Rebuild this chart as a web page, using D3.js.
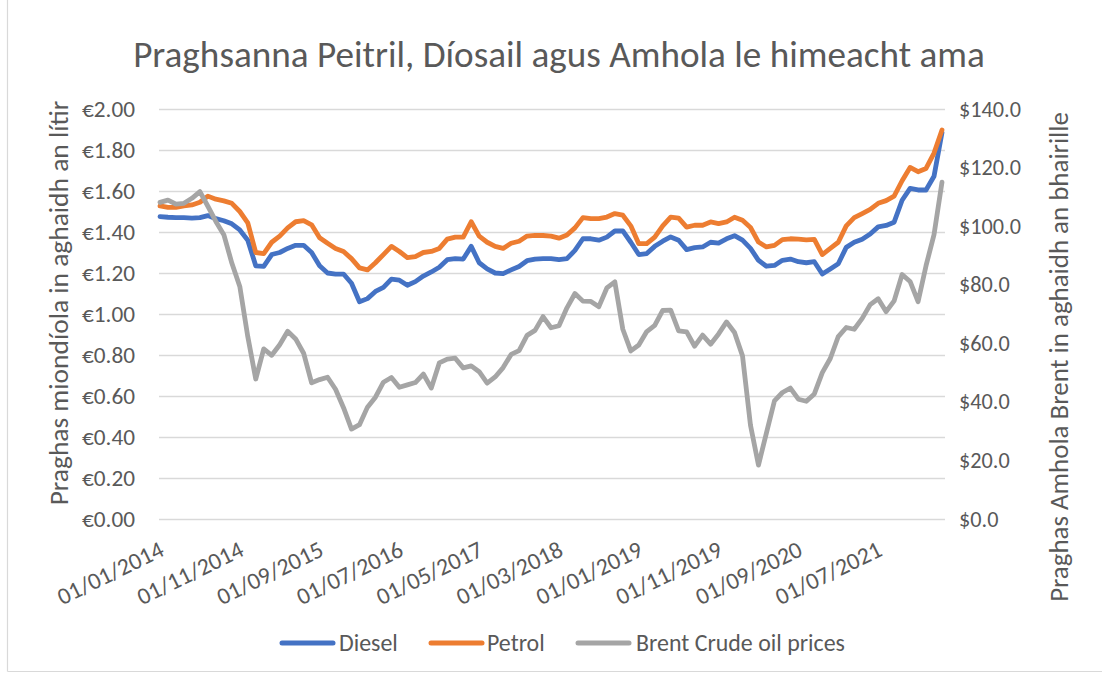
<!DOCTYPE html>
<html>
<head>
<meta charset="utf-8">
<script src="https://cdn.jsdelivr.net/npm/d3@7"></script>
<style>
  html, body { margin: 0; padding: 0; background: #fff; }
  svg { display: block; }
  text { font-family: Carlito, Calibri, Lato, "Open Sans", sans-serif; fill: #595959; }
</style>
</head>
<body>
<svg id="chart" width="1102" height="675"></svg>
<script>
// ---------------- DATA ----------------
const title = "Praghsanna Peitril, Díosail agus Amhola le himeacht ama";
const leftAxisTitle = "Praghas miondíola in aghaidh an lítir";
const rightAxisTitle = "Praghas Amhola Brent in aghaidh an bhairille";
const seriesNames = ["Diesel", "Petrol", "Brent Crude oil prices"];

// monthly categories, Jan 2014 – Mar 2022
const months = d3.timeMonth.range(new Date(2014, 0, 1), new Date(2022, 3, 1))
  .map(d3.timeFormat("%d/%m/%Y"));

const tickLabels = ["01/01/2014", "01/11/2014", "01/09/2015", "01/07/2016", "01/05/2017",
                    "01/03/2018", "01/01/2019", "01/11/2019", "01/09/2020", "01/07/2021"];

const leftTicks = [0, 0.2, 0.4, 0.6, 0.8, 1.0, 1.2, 1.4, 1.6, 1.8, 2.0];
const rightTicks = [0, 20, 40, 60, 80, 100, 120, 140];

const diesel = [
  1.475, 1.472, 1.470, 1.470, 1.468, 1.470, 1.480, 1.465, 1.455, 1.440, 1.410, 1.360,
  1.235, 1.232, 1.290, 1.300, 1.320, 1.335, 1.335, 1.300, 1.235, 1.200, 1.195, 1.195,
  1.150, 1.060, 1.075, 1.110, 1.130, 1.170, 1.165, 1.140, 1.158, 1.185, 1.205, 1.228,
  1.265, 1.270, 1.268, 1.330, 1.250, 1.220, 1.200, 1.197, 1.215, 1.232, 1.260, 1.268,
  1.270, 1.270, 1.265, 1.270, 1.310, 1.367, 1.367, 1.360, 1.375, 1.405, 1.405, 1.350,
  1.290, 1.295, 1.330, 1.355, 1.376, 1.360, 1.314, 1.324, 1.327, 1.350, 1.346, 1.367,
  1.382, 1.360, 1.320, 1.262, 1.233, 1.237, 1.262, 1.268, 1.255, 1.250, 1.255, 1.195,
  1.220, 1.245, 1.325, 1.350, 1.365, 1.390, 1.425, 1.432, 1.448, 1.555, 1.613, 1.605,
  1.605, 1.672, 1.885
];

const petrol = [
  1.527, 1.520, 1.520, 1.527, 1.532, 1.545, 1.575, 1.560, 1.552, 1.540, 1.500, 1.445,
  1.300, 1.295, 1.350, 1.380, 1.420, 1.450, 1.455, 1.435, 1.372, 1.345, 1.320, 1.305,
  1.270, 1.225, 1.215, 1.250, 1.290, 1.330, 1.305, 1.275, 1.280, 1.300, 1.305, 1.320,
  1.365, 1.375, 1.375, 1.450, 1.380, 1.350, 1.330, 1.320, 1.345, 1.355, 1.380, 1.384,
  1.383, 1.380, 1.370, 1.385, 1.420, 1.470, 1.465, 1.465, 1.473, 1.490, 1.482, 1.430,
  1.343, 1.343, 1.375, 1.430, 1.473, 1.468, 1.424, 1.433, 1.433, 1.449, 1.441, 1.449,
  1.472, 1.457, 1.422, 1.351, 1.327, 1.335, 1.363, 1.367, 1.365, 1.362, 1.364, 1.290,
  1.320, 1.350, 1.430, 1.470, 1.490, 1.510, 1.540, 1.553, 1.575, 1.650, 1.715, 1.694,
  1.710, 1.785, 1.898
];

const brent = [
  108.1, 108.9, 107.5, 107.8, 109.5, 111.8, 106.8, 101.6, 97.1, 87.4, 79.4, 62.3,
  47.8, 58.1, 55.9, 59.5, 64.1, 61.5, 56.6, 46.5, 47.6, 48.4, 44.3, 38.0,
  30.7, 32.2, 38.2, 41.6, 46.7, 48.3, 45.0, 45.8, 46.6, 49.5, 44.7, 53.3,
  54.6, 54.9, 51.6, 52.3, 50.3, 46.4, 48.5, 51.7, 56.2, 57.5, 62.7, 64.4,
  69.1, 65.3, 66.0, 72.1, 77.0, 74.4, 74.3, 72.5, 78.9, 81.0, 64.8, 57.4,
  59.4, 64.0, 66.1, 71.2, 71.3, 64.2, 63.9, 59.0, 62.8, 59.7, 63.2, 67.3,
  63.7, 55.7, 32.0, 18.4, 29.4, 40.3, 43.2, 44.7, 40.9, 40.2, 42.7, 50.0,
  54.8, 62.3, 65.4, 64.8, 68.5, 73.2, 75.2, 70.8, 74.5, 83.5, 81.1, 74.2,
  86.5, 97.1, 115.0
];

const colors = ["#4472C4", "#ED7D31", "#A5A5A5"];

// ---------------- CHART ----------------
const svg = d3.select("#chart");
svg.append("rect").attr("width", 1102).attr("height", 675).attr("fill", "#fff");

// outer chart border (left and bottom visible)
svg.append("line").attr("x1", 7.5).attr("x2", 7.5).attr("y1", 0).attr("y2", 671.5)
  .attr("stroke", "#D9D9D9").attr("stroke-width", 1.2);
svg.append("line").attr("x1", 7.5).attr("x2", 1102).attr("y1", 671.5).attr("y2", 671.5)
  .attr("stroke", "#D9D9D9").attr("stroke-width", 1.2);

const plotL = 159, plotR = 945, plotT = 109, plotB = 519;

const x = d3.scalePoint().domain(months).range([160, 942]);
const yL = d3.scaleLinear().domain([0, 2]).range([plotB, plotT]);
const yR = d3.scaleLinear().domain([0, 140]).range([plotB, plotT]);

function fitFont(sel, target, base) {
  sel.style("font-size", base + "px");
  const w = sel.node().getComputedTextLength();
  const s = base * target / w;
  sel.style("font-size", s + "px");
  return s;
}
function measureSize(str, target, base) {
  const t = svg.append("text").text(str);
  const s = fitFont(t, target, base);
  t.remove();
  return s;
}

// gridlines + left axis
const leftAxis = svg.append("g").attr("transform", `translate(${plotL},0)`)
  .call(d3.axisLeft(yL).tickValues(leftTicks).tickSize(-(plotR - plotL)).tickPadding(24)
    .tickFormat(d => "€" + d.toFixed(2)));
leftAxis.select(".domain").remove();
leftAxis.selectAll(".tick line").attr("stroke", "#D9D9D9").attr("stroke-width", 1.4);
const leftSize = measureSize("€0.00", 53, 20);
leftAxis.selectAll(".tick text").attr("fill", "#595959")
  .style("font-size", leftSize + "px").style("font-family", null);

// right axis
const rightAxis = svg.append("g").attr("transform", `translate(${plotR},0)`)
  .call(d3.axisRight(yR).tickValues(rightTicks).tickSize(0).tickPadding(14)
    .tickFormat(d => "$" + d.toFixed(1)));
rightAxis.select(".domain").remove();
const rightSize = measureSize("$140.0", 62, 20);
rightAxis.selectAll(".tick text").attr("fill", "#595959")
  .style("font-size", rightSize + "px").style("font-family", null);

// x axis labels
const xSize = measureSize("01/01/2014", 115, 20);
const xAxis = svg.append("g").attr("transform", `translate(0,${plotB})`)
  .call(d3.axisBottom(x).tickValues(tickLabels).tickSize(0));
xAxis.select(".domain").remove();
xAxis.selectAll(".tick text")
  .attr("fill", "#595959")
  .style("font-size", xSize + "px").style("font-family", null)
  .attr("text-anchor", "end")
  .attr("x", 5).attr("y", 36).attr("dy", 0)
  .attr("transform", "rotate(-26, 5, 36)");

// lines
const lineL = d3.line().x((d, i) => x(months[i])).y(d => yL(d));
const lineR = d3.line().x((d, i) => x(months[i])).y(d => yR(d));
const seriesData = [
  { values: diesel, gen: lineL },
  { values: petrol, gen: lineL },
  { values: brent, gen: lineR }
];
seriesData.forEach((s, k) => {
  svg.append("path").datum(s.values)
    .attr("d", s.gen)
    .attr("fill", "none")
    .attr("stroke", colors[k])
    .attr("stroke-width", 4.8)
    .attr("stroke-linejoin", "round")
    .attr("stroke-linecap", "round");
});

// title
const tt = svg.append("text").attr("x", 559).attr("y", 67).attr("text-anchor", "middle").text(title);
fitFont(tt, 852, 30);

// axis titles
const lt = svg.append("text").attr("text-anchor", "middle")
  .attr("transform", "translate(68,303) rotate(-90)").text(leftAxisTitle);
fitFont(lt, 405, 20);
const rt = svg.append("text").attr("text-anchor", "middle")
  .attr("transform", "translate(1068,357) rotate(-90)").text(rightAxisTitle);
fitFont(rt, 490, 20);

// legend
const legendItems = [
  { x1: 280, x2: 335, tx: 339 },
  { x1: 429, x2: 484, tx: 487 },
  { x1: 576, x2: 631, tx: 636 }
];
const legSize = measureSize(seriesNames[2], 209, 20);
const lg = svg.append("g");
legendItems.forEach((it, k) => {
  lg.append("line").attr("x1", it.x1 + 2).attr("x2", it.x2 - 2).attr("y1", 643).attr("y2", 643)
    .attr("stroke", colors[k]).attr("stroke-width", 5).attr("stroke-linecap", "round");
  lg.append("text").attr("x", it.tx).attr("y", 643).attr("dy", "0.35em")
    .style("font-size", legSize + "px").text(seriesNames[k]);
});
</script>
</body>
</html>
